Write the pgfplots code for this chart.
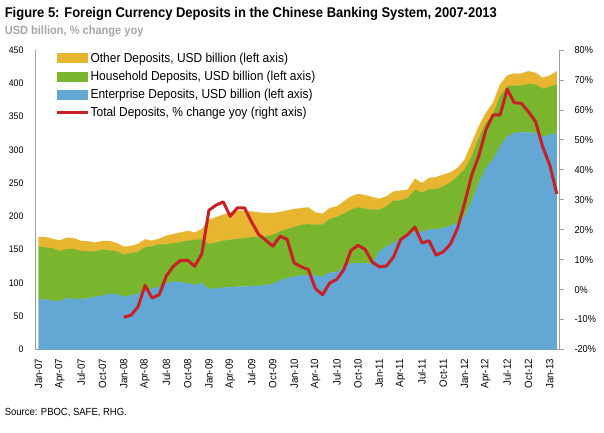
\documentclass[border=0pt]{standalone}
\usepackage{fontspec}
\setmainfont{Liberation Sans}[FakeStretch=0.92]
\usepackage{pgfplots}
\pgfplotsset{compat=1.18}
\usepackage{pgfplotstable}

\definecolor{cOther}{RGB}{231,181,48}
\definecolor{cHouse}{RGB}{122,181,46}
\definecolor{cEnt}{RGB}{99,168,213}
\definecolor{cRed}{RGB}{200,32,38}
\definecolor{axisgray}{RGB}{160,160,160}
\definecolor{subgray}{RGB}{165,165,165}

\pgfplotstableread{
i ent hh oth
0 75.5 78.5 15
1 75 78.5 15.5
2 73 79 14
3 72.5 75.5 16
4 77.5 73.5 17
5 76 75 16
6 76 72 15
7 77 70.5 15
8 79 68.5 13
9 81 69 13
10 83.5 65.5 14
11 83 64.5 12.5
12 79 63.5 12
13 81.5 63.5 10.5
14 83.5 63 12
15 89 64.5 12
16 91.5 63.5 8.5
17 94 64 8.5
18 99 59 13
19 102 57.8 13.6
20 101 60.3 14.5
21 99.6 63.7 15
22 97 67.8 11
23 99.6 66.2 15.1
24 90.6 67.7 36.6
25 92 68.8 38.2
26 93 70.3 39.1
27 93.6 71.2 41.1
28 94.5 71.8 42.2
29 94.5 72.8 41.2
30 95.6 73.2 38.6
31 95.6 73.2 37.1
32 96.6 73.2 35.2
33 98.6 73.7 32.7
34 103.6 73.7 29.2
35 107 73.9 28.1
36 109.6 74.3 27.1
37 111 76 25.5
38 112 76.4 25
39 111 76.4 18.5
40 109.6 77.8 16.6
41 115.6 80.4 16.5
42 116.2 82.8 16
43 123.7 80.3 18.5
44 129.7 80.3 20
45 129.7 83.7 20.2
46 129.7 81.8 20.5
47 128.7 81.3 19
48 147.2 62.8 16.5
49 154.7 60.3 15
50 159.8 63.7 14
51 167.3 56.7 14.6
52 170.8 56.7 12.5
53 177.3 62.7 16.6
54 176.5 59 14.5
55 180.4 60.1 17.2
56 181 60 18
57 182.4 62.6 17.6
58 185.9 65.1 15.1
59 190 70 12.7
60 200 70.2 15
61 222.5 67.7 20.1
62 250 67.8 17.5
63 272.7 67.8 15
64 285.2 67.8 17.6
65 305.2 75.3 17.6
66 320.3 75.2 16.1
67 325.4 71.2 18.1
68 326.3 70.3 18.1
69 326.3 72.7 19.1
70 325.4 72.7 17.6
71 319.4 72.2 16.6
72 322.8 71.8 17
73 325.4 72.7 20
}\deposits

\pgfplotstableread{
i yoy
12 -9.2
13 -8.6
14 -5.8
15 1.4
16 -2.8
17 -1.7
18 4.6
19 7.8
20 9.8
21 9.8
22 7.8
23 12
24 26.5
25 28.2
26 29.3
27 24.5
28 27.3
29 27.3
30 22.6
31 18.4
32 16.5
33 14.5
34 17.8
35 16.8
36 8.9
37 7.6
38 6.7
39 0.3
40 -1.7
41 2.2
42 3.4
43 6.7
44 13.1
45 14.8
46 13.4
47 9.2
48 7.6
49 7.9
50 10.9
51 16.7
52 18.4
53 20.9
54 15.6
55 16.3
56 11.5
57 12.6
58 15.2
59 20.4
60 28.8
61 38.2
62 44.6
63 53.3
64 58.3
65 58.3
66 66.9
67 62.4
68 62.2
69 59.4
70 56.1
71 47.7
72 41.6
73 31.9
}\yoy

\begin{document}
\begin{tikzpicture}
\path[use as bounding box] (0pt,0pt) rectangle (604pt,432pt);

\node[anchor=base west, inner sep=0pt, font=\bfseries\fontsize{14.1}{16}\selectfont] at (4.6pt,414.7pt)
  {Figure 5: Foreign Currency Deposits in the Chinese Banking System, 2007-2013};
\node[anchor=base west, inner sep=0pt, text=subgray, font=\bfseries\fontsize{12}{14}\selectfont] at (4.6pt,397.7pt)
  {USD billion, \% change yoy};
\node[anchor=base west, inner sep=0pt, font=\fontsize{10.3}{12}\selectfont] at (4.6pt,17pt)
  {Source: PBOC, SAFE, RHG.};

\begin{axis}[
  at={(35pt,82.5pt)}, anchor=south west, scale only axis,
  width=524pt, height=299.5pt,
  xmin=-0.5, xmax=73.3, ymin=0, ymax=450,
  axis x line*=bottom, axis y line*=left,
  axis line style={draw=axisgray, line width=0.8pt},
  major tick length=0pt,
  ytick={0,50,...,450},
  yticklabel style={font=\fontsize{9.5}{10}\selectfont, xshift=-8pt},
  xtick={0,3,...,72},
  xticklabels={Jan-07,Apr-07,Jul-07,Oct-07,Jan-08,Apr-08,Jul-08,Oct-08,Jan-09,Apr-09,Jul-09,Oct-09,Jan-10,Apr-10,Jul-10,Oct-10,Jan-11,Apr-11,Jul-11,Oct-11,Jan-12,Apr-12,Jul-12,Oct-12,Jan-13},
  xticklabel style={rotate=90, anchor=east, font=\fontsize{10.5}{11}\selectfont, xshift=-6pt},
  /pgf/number format/assume math mode=true,
  stack plots=y,
  reverse legend,
  legend cell align=left,
  legend style={at={(0.038,1.004)}, anchor=north west, draw=none, fill=none,
    inner sep=0pt, row sep=0pt, font=\fontsize{13}{15}\selectfont,
    nodes={inner xsep=1.5pt, inner ysep=3.6pt}},
]
\addlegendimage{legend image code/.code={\draw[cRed, line width=3pt] (0pt,0pt) -- (31pt,0pt);}}
\addlegendentry{Total Deposits, \% change yoy (right axis)}
\addplot[fill=cEnt, draw=cEnt, line width=0.2pt, mark=none,
  legend image code/.code={\fill[cEnt] (0pt,-4.5pt) rectangle (30pt,4.5pt);}]
  table[x=i, y=ent] {\deposits} \closedcycle;
\addlegendentry{Enterprise Deposits, USD billion (left axis)}
\addplot[fill=cHouse, draw=cHouse, line width=0.2pt, mark=none,
  legend image code/.code={\fill[cHouse] (0pt,-4.5pt) rectangle (30pt,4.5pt);}]
  table[x=i, y=hh] {\deposits} \closedcycle;
\addlegendentry{Household Deposits, USD billion (left axis)}
\addplot[fill=cOther, draw=cOther, line width=0.2pt, mark=none,
  legend image code/.code={\fill[cOther] (0pt,-4.5pt) rectangle (30pt,4.5pt);}]
  table[x=i, y=oth] {\deposits} \closedcycle;
\addlegendentry{Other Deposits, USD billion (left axis)}
\end{axis}

\begin{axis}[
  at={(35pt,82.5pt)}, anchor=south west, scale only axis,
  width=524pt, height=299.5pt,
  xmin=-0.5, xmax=73.3, ymin=-20, ymax=80,
  axis y line*=right, axis x line=none,
  axis line style={draw=axisgray, line width=0.8pt},
  ytick={-20,-10,...,80},
  tick align=outside, major tick length=5pt,
  ytick style={draw=axisgray, line width=0.8pt},
  yticklabel={\pgfmathprintnumber[assume math mode=true]{\tick}\%},
  yticklabel style={font=\fontsize{10}{11}\selectfont, xshift=7pt},
]
\addplot[cRed, line width=3pt, line join=round, mark=none] table[x=i, y=yoy] {\yoy};
\end{axis}
\end{tikzpicture}
\end{document}
